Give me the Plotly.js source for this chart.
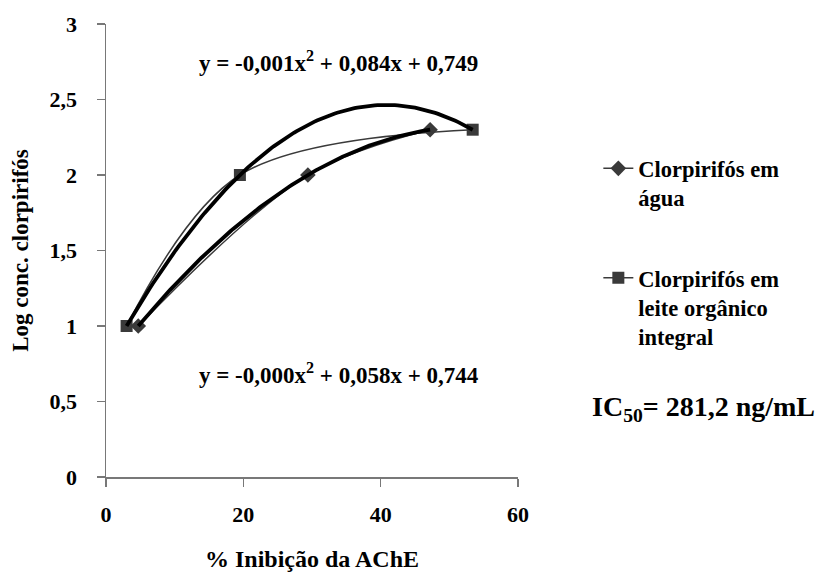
<!DOCTYPE html>
<html>
<head>
<meta charset="utf-8">
<script src="https://cdn.plot.ly/plotly-3.0.1.min.js"></script>
<style>
  html, body { margin: 0; padding: 0; background: #ffffff; }
  #chart { width: 821px; height: 573px; }
</style>
</head>
<body>
<div id="chart"></div>
<script>
// ---- Data ----
const serieAguaNome = "Clorpirifós em<br>água";
const serieLeiteNome = "Clorpirifós em<br>leite orgânico<br>integral";

const inibicaoAgua = [4.7, 29.4, 47.2];     // % Inibição da AChE
const logConcAgua = [1.0, 2.0, 2.3];         // Log conc. clorpirifós

const inibicaoLeite = [3.0, 19.5, 53.4];
const logConcLeite = [1.0, 2.0, 2.3];

const xTickVals = [0, 20, 40, 60];
const yTickVals = [0, 0.5, 1, 1.5, 2, 2.5, 3];

const eqLeite = "y = -0,001x<sup>2</sup> + 0,084x + 0,749";
const eqAgua = "y = -0,000x<sup>2</sup> + 0,058x + 0,744";
const ic50Texto = "IC<sub>50</sub>= 281,2 ng/mL";

// ---- Polynomial (order 2) trendline, least squares fit of a series ----
function polyFit2(xs, ys) {
  let S = [0, 0, 0, 0, 0], T = [0, 0, 0];
  for (let i = 0; i < xs.length; i++) {
    let p = 1;
    for (let k = 0; k < 5; k++) { S[k] += p; p *= xs[i]; }
    T[0] += ys[i]; T[1] += ys[i] * xs[i]; T[2] += ys[i] * xs[i] * xs[i];
  }
  const M = [
    [S[0], S[1], S[2], T[0]],
    [S[1], S[2], S[3], T[1]],
    [S[2], S[3], S[4], T[2]]
  ];
  for (let i = 0; i < 3; i++) {
    let piv = i;
    for (let r = i + 1; r < 3; r++) if (Math.abs(M[r][i]) > Math.abs(M[piv][i])) piv = r;
    [M[i], M[piv]] = [M[piv], M[i]];
    for (let r = 0; r < 3; r++) {
      if (r === i) continue;
      const f = M[r][i] / M[i][i];
      for (let c = i; c < 4; c++) M[r][c] -= f * M[i][c];
    }
  }
  const c = M[0][3] / M[0][0], b = M[1][3] / M[1][1], a = M[2][3] / M[2][2];
  return { a, b, c };
}
function trendline(xs, ys, n) {
  const f = polyFit2(xs, ys);
  const x0 = Math.min(...xs), x1 = Math.max(...xs);
  const tx = [], ty = [];
  for (let i = 0; i <= n; i++) {
    const x = x0 + (x1 - x0) * i / n;
    tx.push(x); ty.push(f.a * x * x + f.b * x + f.c);
  }
  return { tx, ty };
}

const tAgua = trendline(inibicaoAgua, logConcAgua, 120);
const tLeite = trendline(inibicaoLeite, logConcLeite, 120);

const serieCor = "#3a3a3a";
const fontFam = "Liberation Serif";

function f(size) { return { family: fontFam, size: size, color: "#000000", weight: 700 }; }

const traces = [
  {
    x: inibicaoAgua, y: logConcAgua, name: serieAguaNome, type: "scatter", mode: "lines+markers",
    line: { color: serieCor, width: 1.5, shape: "spline", smoothing: 1 },
    marker: { symbol: "diamond", size: 12, color: serieCor },
    legendgroup: "a", cliponaxis: false
  },
  {
    x: inibicaoLeite, y: logConcLeite, name: serieLeiteNome, type: "scatter", mode: "lines+markers",
    line: { color: serieCor, width: 1.5, shape: "spline", smoothing: 1 },
    marker: { symbol: "square", size: 12, color: serieCor },
    legendgroup: "b", cliponaxis: false
  },
  {
    x: tLeite.tx, y: tLeite.ty, type: "scatter", mode: "lines", showlegend: false,
    line: { color: "#000000", width: 3.8 }, hoverinfo: "skip", cliponaxis: false
  },
  {
    x: tAgua.tx, y: tAgua.ty, type: "scatter", mode: "lines", showlegend: false,
    line: { color: "#000000", width: 3.8 }, hoverinfo: "skip", cliponaxis: false
  }
];

const axisCommon = {
  showline: true, linecolor: "#787878", linewidth: 1.5,
  ticks: "outside", ticklen: 8, tickwidth: 1.5, tickcolor: "#787878",
  showgrid: false, zeroline: false, fixedrange: true,
  tickfont: f(22)
};

const layout = {
  width: 821, height: 573,
  margin: { l: 106, r: 303, t: 24, b: 96 },
  paper_bgcolor: "#ffffff", plot_bgcolor: "#ffffff",
  separators: ", ",
  font: { family: fontFam, color: "#000000", weight: 700 },
  showlegend: true,
  xaxis: Object.assign({}, axisCommon, {
    range: [0, 60], tickvals: xTickVals, ticklabelstandoff: 9,
    title: { text: "% Inibição da AChE", font: f(24), standoff: 24 }
  }),
  yaxis: Object.assign({}, axisCommon, {
    range: [0, 3], tickvals: yTickVals, ticklabelstandoff: 15,
    title: { text: "Log conc. clorpirifós", font: f(23), standoff: 14 }
  }),
  legend: {
    x: 1.195, xanchor: "left", y: 0.728, yanchor: "top",
    traceorder: "grouped", tracegroupgap: 48, valign: "top",
    font: f(22.5),
    bgcolor: "rgba(0,0,0,0)"
  },
  annotations: [
    { xref: "paper", yref: "paper", x: (338 - 106) / 412, y: (477 - 62) / 453, text: eqLeite, showarrow: false,
      font: f(23), xanchor: "center", yanchor: "middle" },
    { xref: "paper", yref: "paper", x: (339 - 106) / 412, y: (477 - 373) / 453, text: eqAgua, showarrow: false,
      font: f(23), xanchor: "center", yanchor: "middle" },
    { xref: "paper", yref: "paper", x: (703 - 106) / 412, y: (477 - 408) / 453, text: ic50Texto, showarrow: false,
      font: f(28), xanchor: "center", yanchor: "middle" }
  ]
};

Plotly.newPlot("chart", traces, layout, { displayModeBar: false, staticPlot: true });
</script>
</body>
</html>
